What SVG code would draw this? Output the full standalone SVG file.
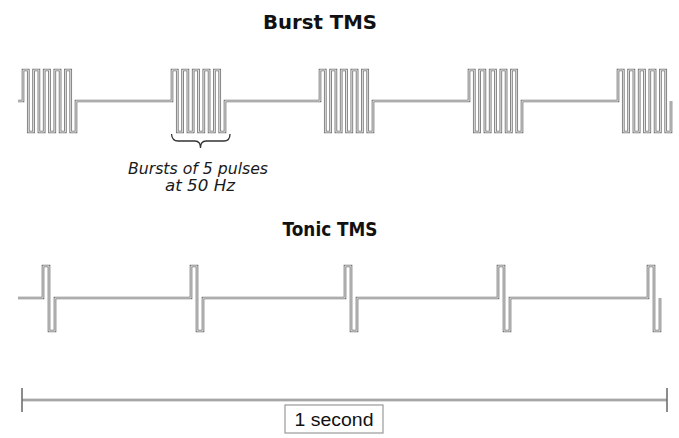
<svg xmlns="http://www.w3.org/2000/svg" width="679" height="438" viewBox="0 0 679 438">
<style>
.title{font-family:"DejaVu Sans",Verdana,sans-serif;font-weight:bold;font-size:20px;fill:#111}
.note{font-family:"DejaVu Sans",Verdana,sans-serif;font-style:italic;font-size:15px;fill:#1a1a1a}
.lbl{font-family:"Liberation Sans",Arial,sans-serif;font-size:18px;fill:#111}
.wo{fill:none;stroke:#777;stroke-width:2.7;stroke-linejoin:miter}
.wi{fill:none;stroke:#eeeeee;stroke-width:0.9;stroke-linejoin:miter}
.tick{stroke:#666;stroke-width:1.5}
</style>
<defs>
<path id="burst" d="M18 101 H23 V70 H28.3 V132 H33.6 V70 H38.9 V132 H44.2 V70 H49.5 V132 H54.8 V70 H60.1 V132 H65.4 V70 H70.7 V132 H76 V101 H172 V70 H177.3 V132 H182.6 V70 H187.9 V132 H193.2 V70 H198.5 V132 H203.8 V70 H209.1 V132 H214.4 V70 H219.7 V132 H225 V101 H320 V70 H325.3 V132 H330.6 V70 H335.9 V132 H341.2 V70 H346.5 V132 H351.8 V70 H357.1 V132 H362.4 V70 H367.7 V132 H373 V101 H469 V70 H474.3 V132 H479.6 V70 H484.9 V132 H490.2 V70 H495.5 V132 H500.8 V70 H506.1 V132 H511.4 V70 H516.7 V132 H522 V101 H618 V70 H623.3 V132 H628.6 V70 H633.9 V132 H639.2 V70 H644.5 V132 H649.8 V70 H655.1 V132 H660.4 V70 H665.7 V132 H671 V101"/>
<path id="tonic" d="M18 298 H43 V266 H49 V331 H55 V298 H191 V266 H197 V331 H203 V298 H345 V266 H351 V331 H357 V298 H498 V266 H504 V331 H510 V298 H648 V266 H654 V331 H660 V298"/>
</defs>
<g id="burst-title"><text class="title" x="320" y="29" text-anchor="middle" textLength="114" lengthAdjust="spacingAndGlyphs">Burst TMS</text></g>
<g id="burst-wave"><use href="#burst" class="wo"/><use href="#burst" class="wi"/></g>
<g id="burst-note">
<path d="M171.5 134 Q172 141 178 141 H195 Q200.5 141 200.5 148 Q200.5 141 206 141 H224 Q230 141 230 134" fill="none" stroke="#333" stroke-width="1.3"/>
<text class="note" x="198" y="174" text-anchor="middle" textLength="140" lengthAdjust="spacingAndGlyphs">Bursts of 5 pulses</text>
<text class="note" x="200" y="191" text-anchor="middle" textLength="70" lengthAdjust="spacingAndGlyphs">at 50 Hz</text>
</g>
<g id="tonic-title"><text class="title" x="330" y="236" text-anchor="middle" textLength="95" lengthAdjust="spacingAndGlyphs">Tonic TMS</text></g>
<g id="tonic-wave"><use href="#tonic" class="wo"/><use href="#tonic" class="wi"/></g>
<g id="scale">
<line x1="22" y1="400" x2="667" y2="400" stroke="#777" stroke-width="2.7"/>
<line x1="22" y1="400" x2="667" y2="400" stroke="#eeeeee" stroke-width="0.8"/>
<line class="tick" x1="22" y1="388" x2="22" y2="412"/>
<line class="tick" x1="667" y1="388" x2="667" y2="412"/>
<rect x="285" y="405" width="98" height="28" fill="#fff" stroke="#999" stroke-width="1.2"/>
<text class="lbl" x="334" y="426" text-anchor="middle" textLength="79" lengthAdjust="spacingAndGlyphs">1 second</text>
</g>
</svg>
